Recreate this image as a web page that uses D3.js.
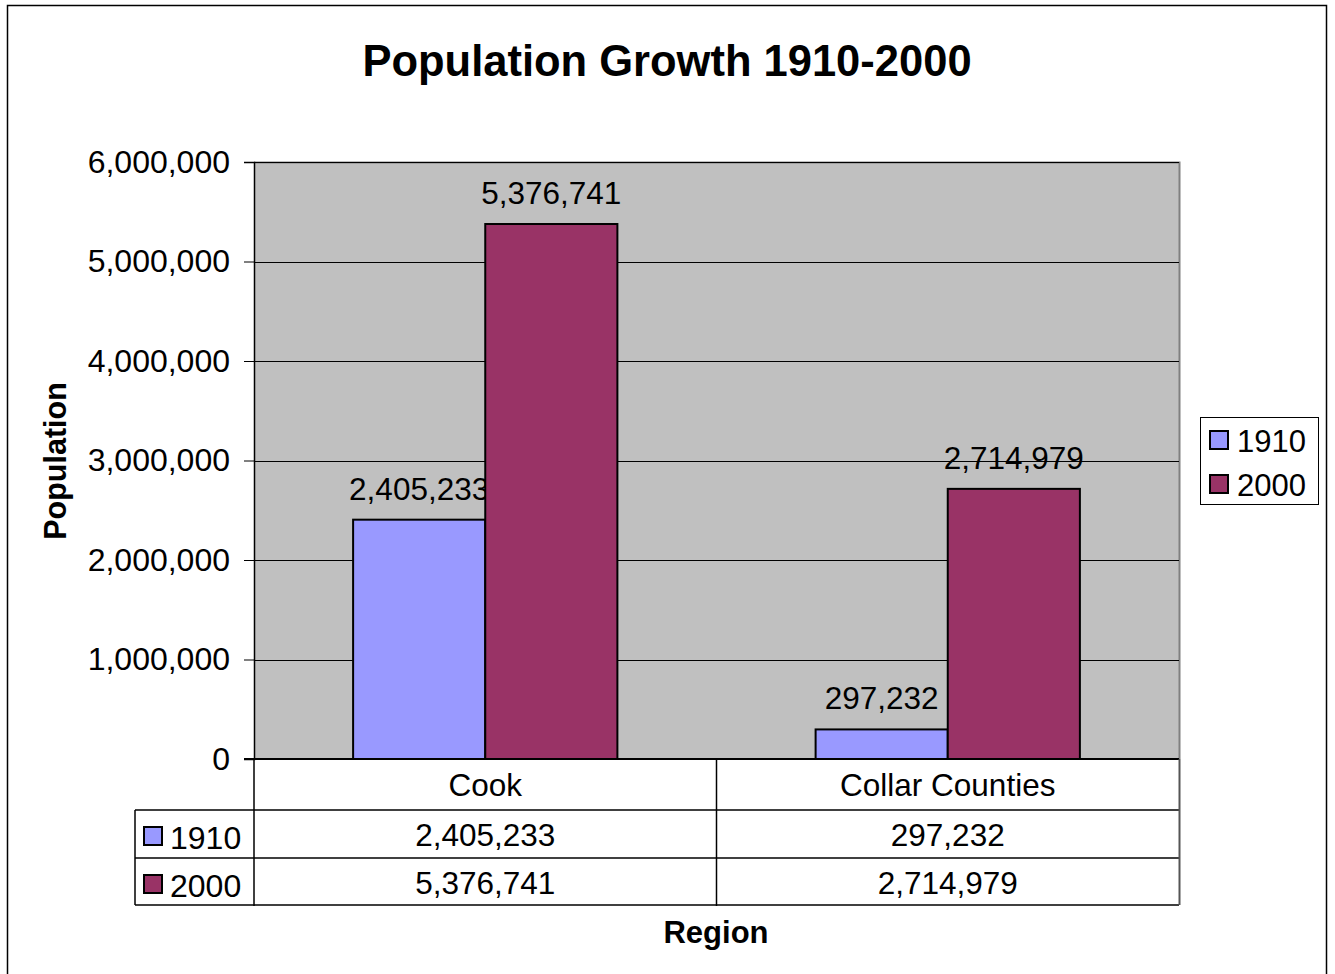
<!DOCTYPE html>
<html>
<head>
<meta charset="utf-8">
<script src="https://cdn.jsdelivr.net/npm/d3@7"></script>
<style>
  body { margin: 0; background: #fff; }
  text { font-family: "Liberation Sans", Arial, sans-serif; fill: #000; }
</style>
</head>
<body>
<div id="chart"></div>
<script>
var categories = ["Cook", "Collar Counties"];
var seriesNames = ["1910", "2000"];
var values1910 = [2405233, 297232];
var values2000 = [5376741, 2714979];
var yTicks = [0, 1000000, 2000000, 3000000, 4000000, 5000000, 6000000];
var colors = ["#9999ff", "#993366"];

var W = 1335, H = 974,
    plot = { left: 254, right: 1179, top: 162, bottom: 759 },
    fmt = d3.format(",");

var svg = d3.select("#chart").append("svg")
    .attr("width", W)
    .attr("height", H);

// outer chart border
svg.append("rect")
    .attr("x", 7.5).attr("y", 5.5)
    .attr("width", 1319).attr("height", 980)
    .attr("fill", "#fff")
    .attr("stroke", "#000")
    .attr("stroke-width", 1.5);

var series = [values1910, values2000];

var x = d3.scaleBand()
    .domain(categories)
    .range([plot.left, plot.right]);

var inner = d3.scaleBand()
    .domain(d3.range(series.length))
    .range([0, x.bandwidth()])
    .paddingOuter(0.75)
    .paddingInner(0);

var y = d3.scaleLinear()
    .domain([0, 6000000])
    .range([plot.bottom, plot.top]);

// plot background
svg.append("rect")
    .attr("x", plot.left).attr("y", plot.top)
    .attr("width", plot.right - plot.left)
    .attr("height", plot.bottom - plot.top)
    .attr("fill", "#c0c0c0");

// right/top edges of plot area
svg.append("path")
    .attr("d", "M" + plot.left + "," + (plot.top + 0.5) + "H" + (plot.right + 0.5) + "V" + plot.bottom)
    .attr("fill", "none")
    .attr("stroke", "#808080")
    .attr("stroke-width", 2);

// gridlines
svg.append("g")
    .selectAll("line")
    .data(yTicks.filter(function(d) { return d > 0; }))
    .enter().append("line")
    .attr("x1", plot.left).attr("x2", plot.right)
    .attr("y1", function(d) { return Math.round(y(d)) + 0.5; })
    .attr("y2", function(d) { return Math.round(y(d)) + 0.5; })
    .attr("stroke", "#000")
    .attr("stroke-width", 1);

// y axis
var yAxis = svg.append("g")
    .attr("transform", "translate(" + plot.left + ",0)")
    .call(d3.axisLeft(y).tickValues(yTicks).tickFormat(fmt).tickSize(10).tickPadding(14));
yAxis.select(".domain").attr("stroke", "#000").attr("stroke-width", 1.5);
yAxis.selectAll(".tick line").attr("stroke", "#000");
yAxis.selectAll(".tick text")
    .attr("font-size", 32)
    .attr("font-family", "Liberation Sans, Arial, sans-serif")
    .attr("fill", "#000");

// bars
var groups = svg.append("g")
    .selectAll("g")
    .data(series)
    .enter().append("g")
    .attr("fill", function(d, i) { return colors[i]; });

groups.selectAll("rect")
    .data(function(d, i) {
        return d.map(function(v, j) { return { v: v, s: i, c: categories[j] }; });
    })
    .enter().append("rect")
    .attr("x", function(d) { return x(d.c) + inner(d.s); })
    .attr("y", function(d) { return y(d.v); })
    .attr("width", inner.bandwidth())
    .attr("height", function(d) { return y(0) - y(d.v); })
    .attr("stroke", "#000")
    .attr("stroke-width", 2);

// value labels
groups.selectAll("text")
    .data(function(d, i) {
        return d.map(function(v, j) { return { v: v, s: i, c: categories[j] }; });
    })
    .enter().append("text")
    .attr("x", function(d) { return x(d.c) + inner(d.s) + inner.bandwidth() / 2; })
    .attr("y", function(d) { return y(d.v) - 20; })
    .attr("text-anchor", "middle")
    .attr("font-size", 31.5)
    .style("fill", "#000")
    .text(function(d) { return fmt(d.v); });

// x axis baseline
svg.append("line")
    .attr("x1", plot.left - 10).attr("x2", plot.right)
    .attr("y1", plot.bottom).attr("y2", plot.bottom)
    .attr("stroke", "#000").attr("stroke-width", 2);

// data table
var rowTop = 810, rowH = 48, keyLeft = 135;
var table = svg.append("g");

// category header row
table.selectAll(".cat")
    .data(categories)
    .enter().append("text")
    .attr("class", "cat")
    .attr("x", function(d) { return x(d) + x.bandwidth() / 2; })
    .attr("y", 796)
    .attr("text-anchor", "middle")
    .attr("font-size", 31.5)
    .text(function(d) { return d; });

// grid of table
var tableLines = [];
tableLines.push([plot.left, plot.bottom, plot.left, rowTop + rowH * 2]);
tableLines.push([x(categories[1]), plot.bottom, x(categories[1]), rowTop + rowH * 2]);
tableLines.push([keyLeft, rowTop, keyLeft, rowTop + rowH * 2 - 1]);
for (var r = 0; r <= 2; r++) {
    tableLines.push([keyLeft, rowTop + rowH * r - (r == 2 ? 1 : 0), plot.right, rowTop + rowH * r - (r == 2 ? 1 : 0)]);
}
table.selectAll("line")
    .data(tableLines)
    .enter().append("line")
    .attr("x1", function(d) { return d[0]; })
    .attr("y1", function(d) { return d[1]; })
    .attr("x2", function(d) { return d[2]; })
    .attr("y2", function(d) { return d[3]; })
    .attr("stroke", "#000")
    .attr("stroke-width", 1.5);

// right edge of table
table.append("line")
    .attr("x1", plot.right + 0.5).attr("x2", plot.right + 0.5)
    .attr("y1", plot.bottom).attr("y2", rowTop + rowH * 2 - 1)
    .attr("stroke", "#555").attr("stroke-width", 2);

var rows = table.selectAll(".row")
    .data(series)
    .enter().append("g")
    .attr("class", "row")
    .attr("transform", function(d, i) { return "translate(0," + (rowTop + rowH * i) + ")"; });

rows.append("rect")
    .attr("x", 144).attr("y", 17)
    .attr("width", 18).attr("height", 18)
    .attr("fill", function(d, i) { return colors[i]; })
    .attr("stroke", "#000").attr("stroke-width", 2);

rows.append("text")
    .attr("x", 170).attr("y", 39)
    .attr("font-size", 32)
    .text(function(d, i) { return seriesNames[i]; });

rows.selectAll(".val")
    .data(function(d) { return d; })
    .enter().append("text")
    .attr("class", "val")
    .attr("x", function(d, j) { return x(categories[j]) + x.bandwidth() / 2; })
    .attr("y", 36)
    .attr("text-anchor", "middle")
    .attr("font-size", 31.5)
    .text(function(d) { return fmt(d); });

// legend
var legend = svg.append("g").attr("transform", "translate(1200,417)");
legend.append("rect")
    .attr("x", 0.5).attr("y", 0.5)
    .attr("width", 118).attr("height", 87)
    .attr("fill", "#fff")
    .attr("stroke", "#000").attr("stroke-width", 1);
var items = legend.selectAll(".item")
    .data(seriesNames)
    .enter().append("g")
    .attr("class", "item")
    .attr("transform", function(d, i) { return "translate(0," + (i * 44) + ")"; });
items.append("rect")
    .attr("x", 10).attr("y", 14)
    .attr("width", 18).attr("height", 18)
    .attr("fill", function(d, i) { return colors[i]; })
    .attr("stroke", "#000").attr("stroke-width", 2);
items.append("text")
    .attr("x", 37).attr("y", 35)
    .attr("font-size", 31)
    .text(function(d) { return d; });

// titles
svg.append("text")
    .attr("x", 667).attr("y", 76)
    .attr("text-anchor", "middle")
    .attr("font-size", 43.5)
    .attr("font-weight", "bold")
    .text("Population Growth 1910-2000");

svg.append("text")
    .attr("transform", "translate(66,461) rotate(-90)")
    .attr("text-anchor", "middle")
    .attr("font-size", 30.5)
    .attr("font-weight", "bold")
    .text("Population");

svg.append("text")
    .attr("x", 716).attr("y", 943)
    .attr("text-anchor", "middle")
    .attr("font-size", 31)
    .attr("font-weight", "bold")
    .text("Region");
</script>
</body>
</html>
